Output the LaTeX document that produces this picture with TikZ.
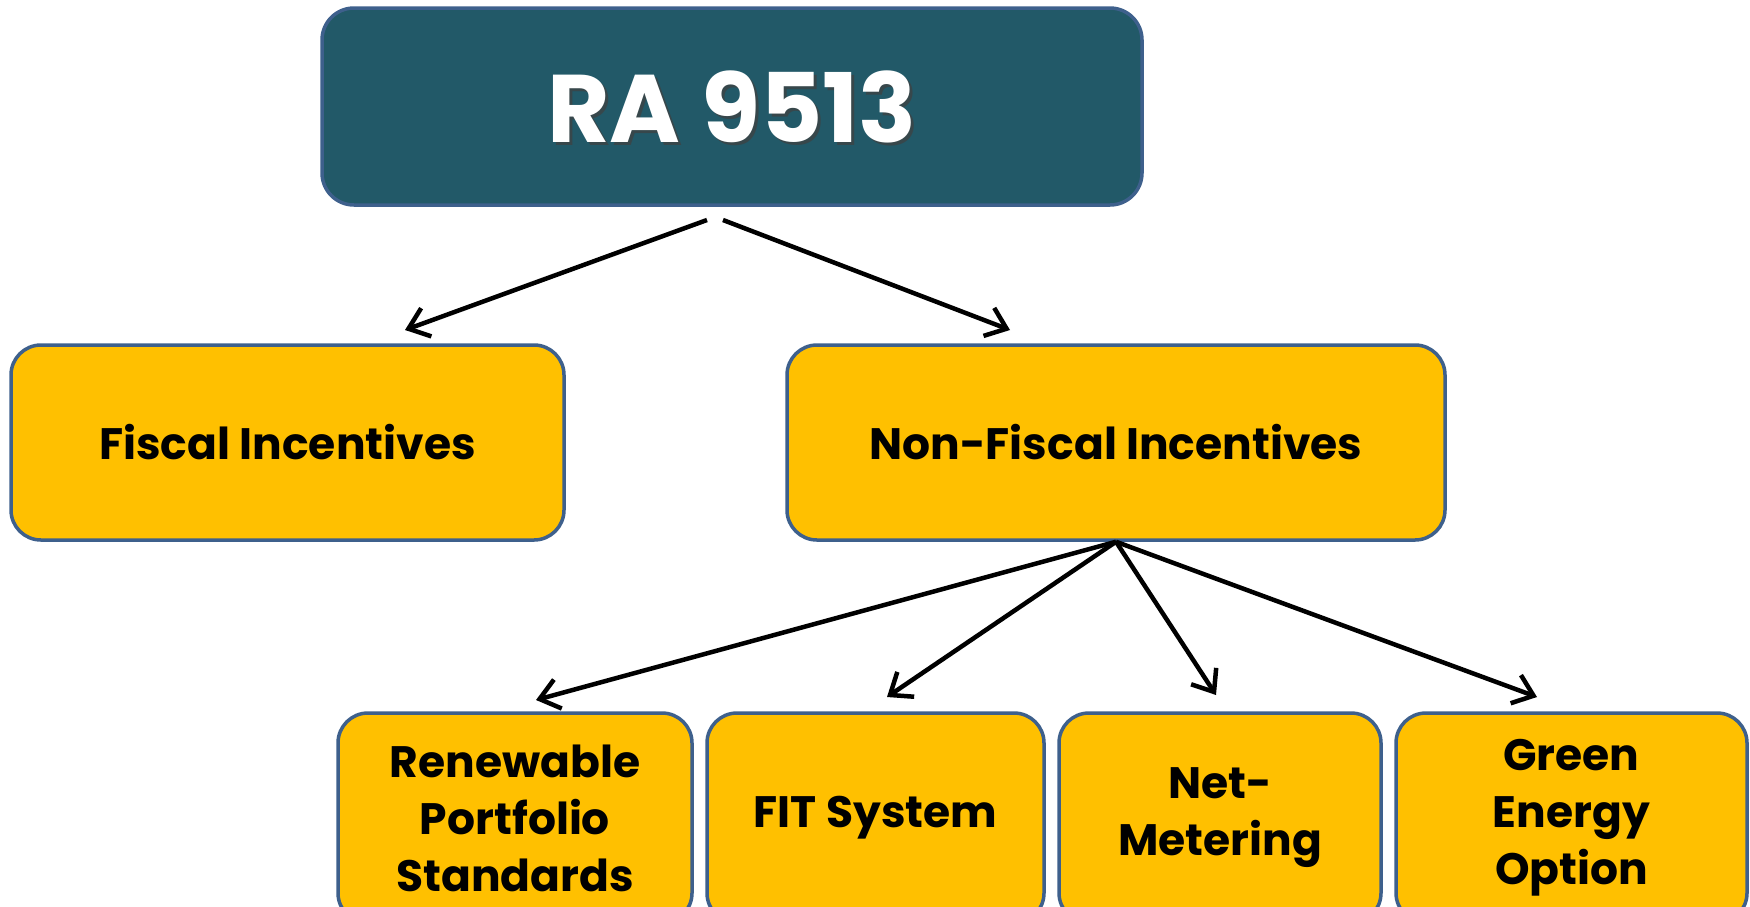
\documentclass[tikz,border=0pt]{standalone}
\usepackage{fontspec}
\setmainfont{Poppins}
\usetikzlibrary{arrows.meta}
\definecolor{teal}{RGB}{34,89,104}
\definecolor{edge}{RGB}{62,96,140}
\definecolor{gold}{RGB}{255,192,0}
\tikzset{
  topfont/.style={font=\fontsize{96}{104}\selectfont\bfseries},
  topbox/.style={draw=edge, line width=3.5pt, fill=teal, rounded corners=32pt, inner sep=0pt},
  midbox/.style={draw=edge, line width=3.5pt, fill=gold, rounded corners=30pt, font=\fontsize{44}{52}\selectfont\bfseries, inner sep=0pt, align=center},
  lowbox/.style={draw=edge, line width=3.5pt, fill=gold, rounded corners=30pt, font=\fontsize{44}{57}\selectfont\bfseries, inner sep=0pt, align=center},
  conn/.style={line width=4.5pt, -{Straight Barb[length=19pt,width=30pt,line width=4.5pt]}},
}
\begin{document}
\begin{tikzpicture}[x=1pt,y=-1pt]
\useasboundingbox (0,0) rectangle (1750,906);
\begin{scope}
\clip (0,0) rectangle (1750,906);
\node[topbox, minimum width=820pt, minimum height=197pt] (ra) at (732,106.5) {};
\node[topfont, text=black!75, opacity=0.7] (rashadow) at (735,110) {RA 9513};
\node[topfont, text=white] (ratext) at (732,106.5) {RA 9513};
\node[midbox, minimum width=553pt, minimum height=195pt] (fi) at (287.5,442.5) {Fiscal Incentives};
\node[midbox, minimum width=658pt, minimum height=195pt] (nfi) at (1116,442.5) {Non-Fiscal Incentives};
\node[lowbox, minimum width=354pt, minimum height=210pt] (rps) at (515,818) {Renewable\\Portfolio\\Standards};
\node[lowbox, minimum width=337pt, minimum height=210pt] (fit) at (875.5,818) {FIT System};
\node[lowbox, minimum width=322pt, minimum height=210pt] (nm) at (1220,818) {Net-\\Metering};
\node[lowbox, minimum width=351pt, minimum height=210pt] (geo) at (1571.5,818) {Green\\Energy\\Option};
\end{scope}
\coordinate (s1) at (707,220);
\coordinate (s2) at (723,220);
\coordinate (t1) at (405,330);
\coordinate (t2) at (1010,330);
\coordinate (b1) at (536,700);
\coordinate (b2) at (887,697);
\coordinate (b3) at (1216,695);
\coordinate (b4) at (1537,697);
\draw[conn] (s1) -- (t1);
\draw[conn] (s2) -- (t2);
\draw[conn] (nfi.south) -- (b1);
\draw[conn] (nfi.south) -- (b2);
\draw[conn] (nfi.south) -- (b3);
\draw[conn] (nfi.south) -- (b4);
\end{tikzpicture}
\end{document}
